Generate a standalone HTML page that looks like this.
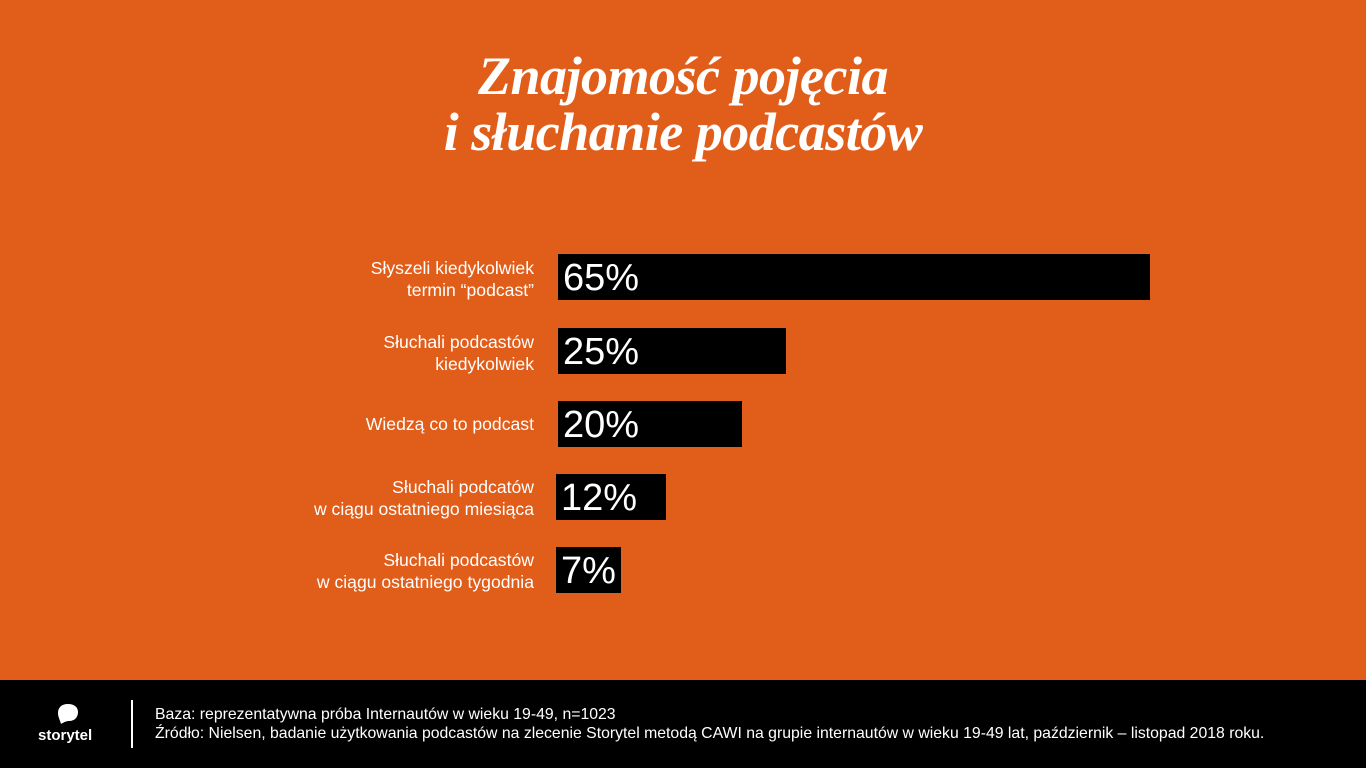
<!DOCTYPE html>
<html><head><meta charset="utf-8"><style>
body{margin:0;width:1366px;height:768px;background:#e15d1a;position:relative;overflow:hidden;font-family:"Liberation Sans",sans-serif;color:#fff}
.t{position:absolute;left:0;width:1366px;text-align:center;font-family:"Liberation Serif",serif;font-style:italic;font-weight:bold;font-size:54px;line-height:56px;top:48px;letter-spacing:-0.5px}
.bar{position:absolute;background:#000;height:46px}
.bar span{position:absolute;left:5px;top:2px;font-size:38px;line-height:44px}
.lb{position:absolute;right:832px;text-align:right;font-size:17.6px;line-height:22px;width:400px}
.f{position:absolute;left:0;top:680px;width:1366px;height:88px;background:#000}
</style></head><body>
<div class="t">Znajomość pojęcia<br>i słuchanie podcastów</div>
<div class="lb" style="top:257px">Słyszeli kiedykolwiek<br>termin “podcast”</div>
<div class="lb" style="top:331px">Słuchali podcastów<br>kiedykolwiek</div>
<div class="lb" style="top:413px">Wiedzą co to podcast</div>
<div class="lb" style="top:476px">Słuchali podcatów<br>w ciągu ostatniego miesiąca</div>
<div class="lb" style="top:549px">Słuchali podcastów<br>w ciągu ostatniego tygodnia</div>
<div class="bar" style="left:558px;top:254px;width:592px"><span>65%</span></div>
<div class="bar" style="left:558px;top:328px;width:228px"><span>25%</span></div>
<div class="bar" style="left:558px;top:401px;width:184px"><span>20%</span></div>
<div class="bar" style="left:556px;top:474px;width:110px"><span>12%</span></div>
<div class="bar" style="left:556px;top:547px;width:65px"><span>7%</span></div>
<div class="f">
<svg style="position:absolute;left:56px;top:23px" width="24" height="22" viewBox="0 0 24 22"><path d="M12 1C5 1 2 5 2 10c0 4 2 7 3 11 3-2 6-3 8-3 6 0 9-4 9-9S18 1 12 1z" fill="#fff"/></svg>
<div style="position:absolute;left:38px;top:47px;font-size:15px;font-weight:bold">storytel</div>
<div style="position:absolute;left:131px;top:20px;width:2px;height:48px;background:#fff"></div>
<div style="position:absolute;left:155px;top:25px;font-size:15.8px;line-height:19px">Baza: reprezentatywna próba Internautów w wieku 19-49, n=1023<br>Źródło: Nielsen, badanie użytkowania podcastów na zlecenie Storytel metodą CAWI na grupie internautów w wieku 19-49 lat, październik – listopad 2018 roku.</div>
</div>
</body></html>
